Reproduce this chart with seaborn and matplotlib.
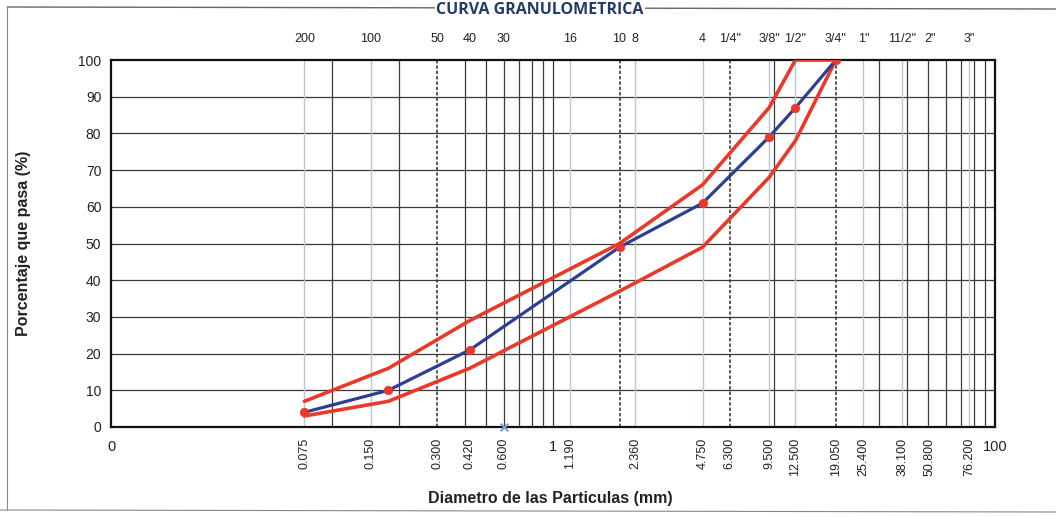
import numpy as np
import pandas as pd
import matplotlib
matplotlib.use("Agg")
import matplotlib.pyplot as plt
import matplotlib.transforms as mtransforms
from matplotlib.lines import Line2D
import seaborn as sns

# ------------------------------------------------------------
# DATA
# ------------------------------------------------------------
sieve_mm = [0.075, 0.18, 0.42, 2.0, 4.75, 9.5, 12.5, 19.05]
pct_passing = [4, 10, 21, 49, 61, 79, 87, 100]
upper_limit = [7, 16, 29, 50, 66, 87, 100, 100]
lower_limit = [3, 7, 16, 37, 49, 68, 78, 100]

stray_mm = [0.6]
stray_pct = [0]

top_tick_mm = [0.075, 0.15, 0.3, 0.42, 0.6, 1.19, 2.0, 2.36, 4.75, 6.3,
               9.5, 12.5, 19.05, 25.4, 38.1, 50.8, 76.2]
top_tick_labels = ["200", "100", "50", "40", "30", "16", "10", "8", "4", '1/4"',
                   '3/8"', '1/2"', '3/4"', '1"', '11/2"', '2"', '3"']

bottom_tick_mm = [0.075, 0.15, 0.3, 0.42, 0.6, 1.19, 2.36, 4.75, 6.3,
                  9.5, 12.5, 19.05, 25.4, 38.1, 50.8, 76.2]
bottom_tick_labels = ["0.075", "0.150", "0.300", "0.420", "0.600", "1.190", "2.360",
                      "4.750", "6.300", "9.500", "12.500", "19.050", "25.400",
                      "38.100", "50.800", "76.200"]

dashed_grid_mm = [0.3, 2.0, 6.3, 19.05]
dark_grid_mm = [0.1, 0.2, 0.4, 0.5, 0.6, 0.7, 0.8, 0.9, 1.0, 10.0,
                30.0, 40.0, 50.0, 60.0, 70.0, 80.0, 90.0]
light_grid_mm = [0.075, 0.15, 1.19, 2.36, 4.75, 9.5, 12.5, 25.4, 38.1, 76.2]

# ------------------------------------------------------------
# PLOT
# ------------------------------------------------------------
sns.set_style("white")
plt.rcParams["font.family"] = ["Liberation Sans", "DejaVu Sans"]

fig = plt.figure(figsize=(10.56, 5.17), dpi=100)
ax = fig.add_axes([111 / 1056, 1 - 427 / 517, 884 / 1056, 367 / 517])

ax.set_xscale("log")
ax.set_xlim(0.01, 100)
ax.set_ylim(0, 100)

# grid lines
for v in np.arange(10, 100, 10):
    ax.axhline(v, color="#3a3a3a", lw=0.9, zorder=1)
for v in light_grid_mm:
    ax.axvline(v, color="#b9c6d6", lw=1.0, zorder=1)
for v in dark_grid_mm:
    ax.axvline(v, color="#3a3a3a", lw=0.9, zorder=1)
for v in dashed_grid_mm:
    ax.axvline(v, color="#2e2e2e", lw=1.1, ls=(0, (2.2, 1.3)), zorder=1)

red = "#e8392b"
blue = "#2c3f93"

sns.lineplot(x=sieve_mm, y=upper_limit, ax=ax, color=red, lw=2.6, sort=False,
             estimator=None, zorder=3)
sns.lineplot(x=sieve_mm, y=lower_limit, ax=ax, color=red, lw=2.6, sort=False,
             estimator=None, zorder=3)
sns.lineplot(x=sieve_mm, y=pct_passing, ax=ax, color=blue, lw=2.3, sort=False,
             estimator=None, zorder=4)
sns.scatterplot(x=sieve_mm, y=pct_passing, ax=ax, color=red, s=38,
                edgecolor=red, zorder=5)
sns.scatterplot(x=stray_mm, y=stray_pct, ax=ax, color="#7f9fd0", marker="x",
                s=30, linewidth=1.5, zorder=5, clip_on=False)

# frame
for s in ax.spines.values():
    s.set_color("#111111")
    s.set_linewidth(1.6)

# y ticks
ax.set_yticks(np.arange(0, 101, 10))
ax.tick_params(axis="y", direction="out", length=4, width=0.8, labelsize=10,
               pad=3, colors="#222222")

# bottom ticks (rotated sieve sizes)
ax.set_xticks(bottom_tick_mm)
ax.set_xticklabels(bottom_tick_labels, rotation=90, fontsize=9, va="top")
ax.xaxis.set_minor_locator(matplotlib.ticker.NullLocator())
ax.tick_params(axis="x", length=0, pad=8, colors="#222222")

trans = mtransforms.blended_transform_factory(ax.transData, ax.transAxes)
for xv, lab in [(0.01, "0"), (1.0, "1"), (100.0, "100")]:
    ax.text(xv, -0.035, lab, transform=trans, ha="center", va="top",
            fontsize=10.5, color="#222222")

# top ticks (sieve names)
for xv, lab in zip(top_tick_mm, top_tick_labels):
    ax.text(xv, 1.04, lab, transform=trans, ha="center", va="bottom",
            fontsize=9, color="#222222")

ax.set_ylabel("Porcentaje que pasa (%)", fontsize=11.5, fontweight="bold",
              color="#222222")
ax.yaxis.set_label_coords(-0.09, 0.5)
ax.set_xlabel("Diametro de las Particulas (mm)", fontsize=11.5, fontweight="bold",
              color="#222222")
ax.xaxis.set_label_coords(0.497, -0.175)

# page border lines of the scanned sheet
fig.add_artist(Line2D([0.007, 1.0], [1 - 7 / 517, 1 - 9 / 517],
                      color="#666666", lw=1.0))
fig.add_artist(Line2D([0.007, 0.007], [1 - 7 / 517, 1 - 510 / 517],
                      color="#888888", lw=0.8))
fig.add_artist(Line2D([0.0, 1.0], [1 - 510 / 517, 1 - 512 / 517],
                      color="#888888", lw=0.8))

fig.text(540 / 1056, 1 - 10 / 517, "CURVA GRANULOMETRICA", ha="center",
         va="center", fontsize=11.5, fontweight="bold", color="#243a6b",
         family=["Open Sans", "DejaVu Sans"],
         bbox=dict(facecolor="white", edgecolor="none", pad=1))

fig.savefig("out.png", dpi=100)
